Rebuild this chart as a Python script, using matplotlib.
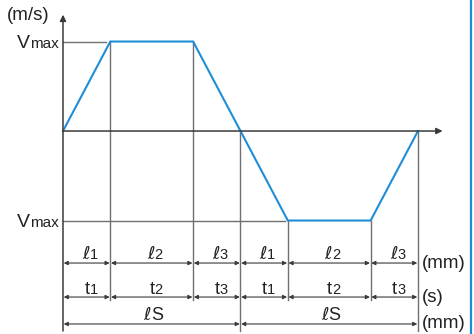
import matplotlib.pyplot as plt

plt.rcParams['font.family'] = ['Liberation Sans', 'DejaVu Sans']

# velocity profile (one forward move, one backward move)
seg_times = [1.0, 1.75, 1.0]          # t1, t2, t3
vmax = 1.0
t_pts = [0, 1.0, 2.75, 3.75, 4.75, 6.5, 7.5]
v_pts = [0, vmax, vmax, 0, -vmax, -vmax, 0]
l_labels = ['1', '2', '3']
t_labels = ['1', '2', '3']
units = ['(mm)', '(s)', '(mm)']

blue = '#1f8dd6'
dark = '#3a3a3a'
grey = '#707070'
txt = '#222222'

fig = plt.figure(figsize=(4.74, 3.34), dpi=100)
ax = fig.add_axes([0, 0, 1, 1])
ax.set_xlim(-1.331, 8.684)
ax.set_ylim(-2.268, 1.464)
ax.axis('off')

y_bot = -2.235
y_mid = -1.89
row_l, row_t, row_s = -1.475, -1.855, -2.156

# axes with arrows
ax.annotate('', xy=(0, 1.30), xytext=(0, y_bot),
            arrowprops=dict(arrowstyle='-|>', color=dark, lw=1.1,
                            mutation_scale=9, shrinkA=0, shrinkB=0))
ax.annotate('', xy=(8.02, 0), xytext=(0, 0),
            arrowprops=dict(arrowstyle='-|>', color=dark, lw=1.1,
                            mutation_scale=9, shrinkA=0, shrinkB=0))

# guide lines
ax.plot([0, t_pts[1] - 0.1], [vmax, vmax], color=grey, lw=1)
ax.plot([0, t_pts[4] - 0.06], [-vmax, -vmax], color=grey, lw=1)
for i in (1, 2, 4, 5):
    ax.plot([t_pts[i], t_pts[i]], [v_pts[i], y_mid], color=grey, lw=1)
for i in (3, 6):
    ax.plot([t_pts[i], t_pts[i]], [0, y_bot], color=grey, lw=1)

# velocity profile
ax.plot(t_pts, v_pts, color=blue, lw=1.5, solid_joinstyle='miter')

# right frame line
ax.axvline(8.62, color=blue, lw=1.6)


def dim(x0, x1, y):
    ax.annotate('', xy=(x0, y), xytext=(x1, y),
                arrowprops=dict(arrowstyle='<|-|>', color=dark, lw=0.8,
                                mutation_scale=6, shrinkA=0.5, shrinkB=0.5))


def ell(x, y):
    ax.text(x, y, '\u2113', fontsize=13, ha='right', va='baseline',
            family='DejaVu Sans', style='italic', color=txt)


for half in (0, 3):
    for k in range(3):
        x0 = t_pts[half + k]
        x1 = t_pts[half + k + 1]
        dim(x0, x1, row_l)
        dim(x0, x1, row_t)
        xc = (x0 + x1) / 2 + 0.06
        ell(xc, -1.43)
        ax.text(xc, -1.43, l_labels[k], fontsize=10.5, ha='left',
                va='baseline', color=txt)
        ax.text(xc, -1.82, 't', fontsize=13, ha='right', va='baseline', color=txt)
        ax.text(xc, -1.82, t_labels[k], fontsize=10.5, ha='left',
                va='baseline', color=txt)
    dim(t_pts[half], t_pts[half + 3], row_s)
    xc = (t_pts[half] + t_pts[half + 3]) / 2 - 0.02
    ell(xc, -2.11)
    ax.text(xc, -2.11, 'S', fontsize=13, ha='left', va='baseline', color=txt)

for y, u in zip([row_l, row_t, row_s], units):
    ax.text(7.58, y, u, fontsize=13.5, ha='left', va='center', color=txt)

ax.text(-1.19, 1.296, '(m/s)', fontsize=13.5, ha='left', va='center', color=txt)
for v in (vmax, -vmax):
    ax.text(-0.70, v - 0.075, 'V', fontsize=14, ha='right', va='baseline', color=txt)
    ax.text(-0.70, v - 0.075, 'max', fontsize=11, ha='left', va='baseline', color=txt)

fig.savefig('out.png', dpi=100)
